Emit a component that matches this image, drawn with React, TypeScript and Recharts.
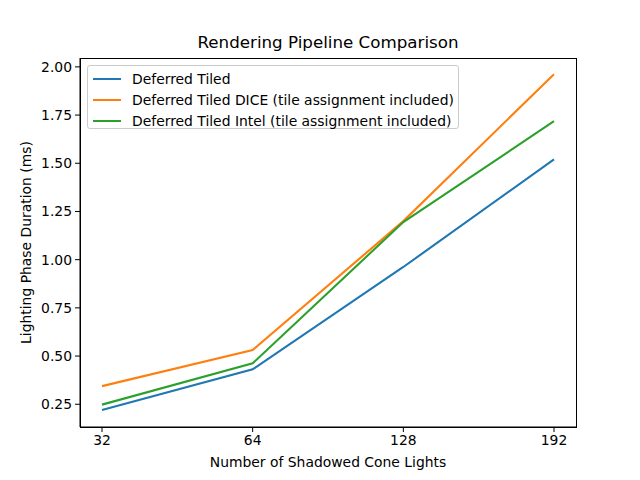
import { Label, Line, LineChart, XAxis, YAxis } from "recharts";

const lights = ["32", "64", "128", "192"];
const deferredTiled = [0.22, 0.431, 0.962, 1.52];
const deferredDice = [0.344, 0.531, 1.2, 1.962];
const deferredIntel = [0.248, 0.462, 1.195, 1.718];
const yTicks = [0.25, 0.5, 0.75, 1.0, 1.25, 1.5, 1.75, 2.0];

const series = [
  { key: "tiled", name: "Deferred Tiled", color: "#1f77b4", values: deferredTiled },
  {
    key: "dice",
    name: "Deferred Tiled DICE (tile assignment included)",
    color: "#ff7f0e",
    values: deferredDice,
  },
  {
    key: "intel",
    name: "Deferred Tiled Intel (tile assignment included)",
    color: "#2ca02c",
    values: deferredIntel,
  },
];

const data = lights.map((lights, i) => {
  const row: Record<string, string | number> = { lights };
  for (const s of series) row[s.key] = s.values[i];
  return row;
});

const font = "'DejaVu Sans', sans-serif";
const tickStyle = { fontSize: 13.9, fill: "#000", fontFamily: font };
const yDomain = [0.132, 2.046];

export default function App() {
  return (
    <div
      style={{
        position: "absolute",
        left: 0,
        top: 0,
        width: 640,
        height: 480,
        background: "#fff",
        fontFamily: font,
      }}
    >
      <div
        style={{
          position: "absolute",
          left: 80,
          width: 496,
          top: 32,
          textAlign: "center",
          fontSize: 16.7,
          lineHeight: "20px",
          color: "#000",
        }}
      >
        Rendering Pipeline Comparison
      </div>

      <LineChart
        width={640}
        height={480}
        data={data}
        margin={{ top: 58, right: 64, bottom: 23, left: 20 }}
      >
        <XAxis
          dataKey="lights"
          padding={{ left: 22, right: 22 }}
          height={30}
          tickSize={5}
          tickLine={{ stroke: "#000" }}
          axisLine={{ stroke: "#000" }}
          tick={tickStyle}
          tickMargin={3}
          interval={0}
        >
          <Label
            value="Number of Shadowed Cone Lights"
            position="insideBottom"
            offset={-10}
            style={{ fontSize: 13.9, fill: "#000", fontFamily: font }}
          />
        </XAxis>
        <YAxis
          type="number"
          domain={yDomain}
          ticks={yTicks}
          allowDataOverflow
          width={60}
          tickSize={5}
          tickLine={{ stroke: "#000" }}
          axisLine={{ stroke: "#000" }}
          tick={tickStyle}
          tickMargin={3}
          tickFormatter={(v: number) => v.toFixed(2)}
        >
          <Label
            value="Lighting Phase Duration (ms)"
            angle={-90}
            position="insideLeft"
            offset={6}
            style={{ fontSize: 13.9, fill: "#000", fontFamily: font, textAnchor: "middle" }}
          />
        </YAxis>
        {series.map((s) => (
          <Line
            key={s.key}
            type="linear"
            dataKey={s.key}
            name={s.name}
            stroke={s.color}
            strokeWidth={2.1}
            dot={false}
            activeDot={false}
            isAnimationActive={false}
          />
        ))}
      </LineChart>

      {/* axes frame (matplotlib-style spines) */}
      <div
        style={{
          position: "absolute",
          left: 80,
          top: 58,
          width: 497,
          height: 370,
          border: "1px solid #000",
          boxSizing: "border-box",
          pointerEvents: "none",
        }}
      />

      <div
        style={{
          position: "absolute",
          left: 87,
          top: 65,
          width: 372,
          height: 64,
          border: "1px solid #cccccc",
          borderRadius: 3,
          background: "rgba(255,255,255,0.8)",
          padding: "2px 0 0 0",
          boxSizing: "border-box",
        }}
      >
        {series.map((s) => (
          <div
            key={s.key}
            style={{ display: "flex", alignItems: "center", height: 21, whiteSpace: "nowrap" }}
          >
            <span
              style={{
                display: "inline-block",
                width: 28,
                height: 2,
                background: s.color,
                marginLeft: 5,
                marginRight: 11,
              }}
            />
            <span style={{ fontSize: 13.9, color: "#000" }}>{s.name}</span>
          </div>
        ))}
      </div>
    </div>
  );
}
